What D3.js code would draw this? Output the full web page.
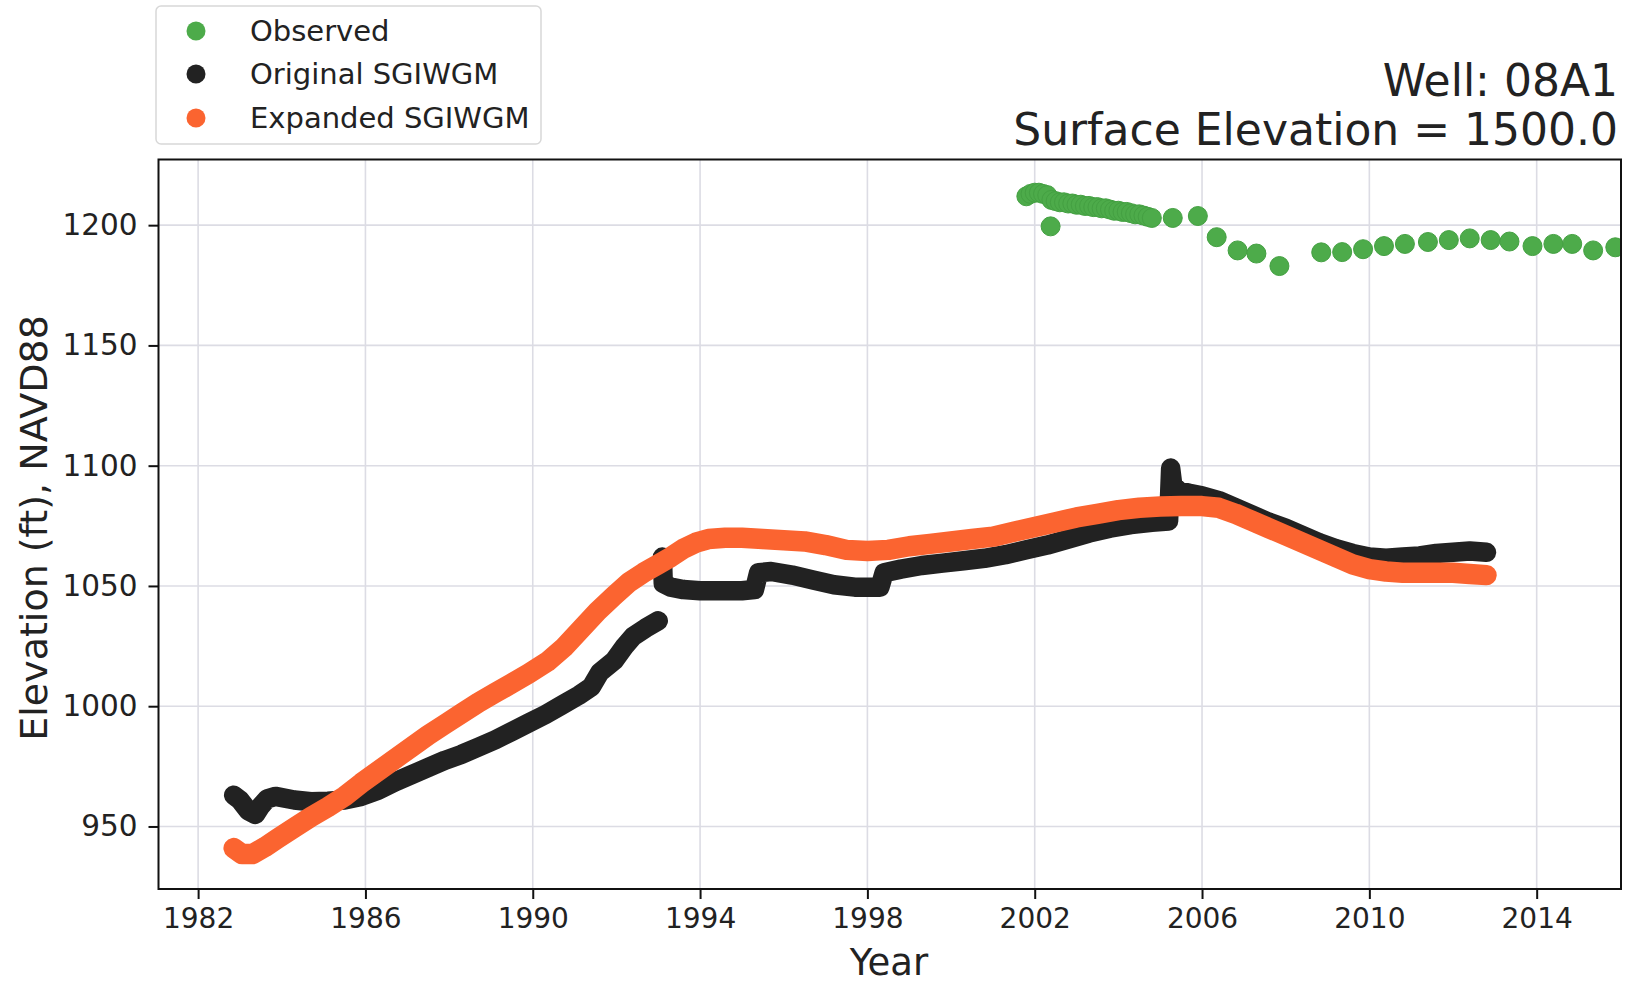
<!DOCTYPE html>
<html><head><meta charset="utf-8">
<script src="https://cdn.jsdelivr.net/npm/d3@7"></script>
<style>html,body{margin:0;padding:0;background:#fff;}svg{display:block;}text{font-family:"DejaVu Sans",sans-serif;fill:#222;}</style>
</head><body>
<svg id="chart" width="1635" height="984"></svg>
<script>
// ---- data ----
const xTicks = [1982, 1986, 1990, 1994, 1998, 2002, 2006, 2010, 2014];
const yTicks = [950, 1000, 1050, 1100, 1150, 1200];
const seriesNames = ["Observed", "Original SGIWGM", "Expanded SGIWGM"];

const observedYears = [2001.8,2001.9,2002.0,2002.1,2002.2,2002.3,2002.38,2002.4,2002.5,2002.6,2002.7,2002.8,2002.9,2003.0,2003.1,2003.2,2003.3,2003.4,2003.5,2003.6,2003.7,2003.8,2003.9,2004.0,2004.1,2004.2,2004.3,2004.4,2004.5,2004.6,2004.7,2004.8,
  2005.3,2005.9,2006.35,2006.85,2007.3,2007.85,2008.85,2009.35,2009.85,2010.35,2010.85,2011.4,2011.9,2012.4,2012.9,2013.35,2013.9,2014.4,2014.85,2015.35,2015.88];
const observedValues = [1212,1213,1213.5,1213.5,1213,1212.5,1199.5,1210.5,1210,1209.5,1209.5,1209,1209,1208.5,1208.5,1208,1208,1207.5,1207.5,1207,1207,1206.5,1206,1206,1205.5,1205.5,1205,1204.5,1204.5,1204,1203.5,1203,
  1203,1203.8,1195,1189.5,1188.2,1183,1188.7,1188.8,1190,1191.3,1192.2,1193,1193.8,1194.5,1193.8,1193.2,1191.3,1192.2,1192.2,1189.5,1190.8];

// null marks a gap in the simulated record
const originalYears = [1982.85,1983.0,1983.2,1983.37,1983.5,1983.65,1983.85,1984.3,1984.7,1985.1,1985.5,1985.9,1986.3,1986.7,1987.1,1987.5,1987.9,1988.3,1988.7,1989.1,1989.5,1989.9,1990.3,1990.7,1991.1,1991.4,1991.6,1991.95,1992.2,1992.4,1992.7,1993.0,
  1993.05,
  1993.1,1993.12,1993.3,1993.6,1994.0,1994.5,1995.0,1995.3,1995.4,1995.7,1996.2,1996.7,1997.2,1997.7,1998.3,1998.4,1998.8,1999.3,1999.8,2000.3,2000.8,2001.3,2001.8,2002.3,2002.8,2003.3,2003.8,2004.3,2004.8,2005.2,2005.25,2005.3,2005.45,2005.7,2006.0,2006.4,2006.8,2007.2,2007.6,2008.0,2008.4,2008.8,2009.2,2009.6,2010.0,2010.4,2010.8,2011.2,2011.6,2012.0,2012.4,2012.8];
const originalValues = [963,961,956.5,955,958.5,961.5,962.5,961,960.3,960.5,961,962.5,965,968.5,971.5,974.5,977.5,980,983,986,989.5,993,996.5,1000.5,1004.5,1008,1014,1019,1025,1029,1032.5,1035.5,
  null,
  1062,1051,1049.5,1048.5,1048,1048,1048,1048.5,1055.5,1056,1054.5,1052.5,1050.5,1049.5,1049.5,1055.5,1057,1058.5,1059.5,1060.5,1061.5,1063,1065,1067,1069.5,1072,1074,1075.5,1076.5,1077,1099,1092,1089.5,1088.5,1087.5,1085.5,1082.5,1079.5,1076.5,1074,1071,1068,1065.5,1063.5,1062,1061.5,1062,1062.5,1063.5,1064,1064.5,1064];

const expandedYears = [1982.85,1983.05,1983.3,1983.6,1983.9,1984.3,1984.7,1985.1,1985.5,1985.9,1986.3,1986.7,1987.1,1987.5,1987.9,1988.3,1988.7,1989.1,1989.5,1989.9,1990.35,1990.75,1991.15,1991.55,1991.95,1992.3,1992.65,1993.0,1993.3,1993.6,1993.9,1994.2,1994.6,1995.0,1995.5,1996.0,1996.5,1997.0,1997.5,1998.0,1998.5,1999.0,1999.5,2000.0,2000.5,2001.0,2001.5,2002.0,2002.5,2003.0,2003.5,2004.0,2004.5,2005.0,2005.5,2006.0,2006.4,2006.8,2007.2,2007.6,2008.0,2008.4,2008.8,2009.2,2009.6,2010.0,2010.4,2010.8,2011.2,2011.6,2012.0,2012.4,2012.8];
const expandedValues = [941,938.5,938.5,941.5,945,949.5,954,958,962.5,968,973,978,983,988,992.5,997,1001.5,1005.5,1009.5,1013.5,1018.5,1024.5,1032,1039.5,1046,1051.5,1055.5,1059,1062,1065.5,1068,1069.5,1070,1070,1069.5,1069,1068.5,1067,1065,1064.5,1065,1066.5,1067.5,1068.5,1069.5,1070.5,1072.5,1074.5,1076.5,1078.5,1080,1081.5,1082.5,1083,1083.2,1083.2,1082.5,1080,1077,1074,1071,1068,1065,1062,1059,1057,1056,1055.5,1055.5,1055.5,1055.5,1055,1054.5];

// ---- layout ----
const colors = {obs: "#4dab4a", orig: "#222222", exp: "#fb6430"};
const L = 158.5, R = 1621, T = 159.5, B = 889;
const svg = d3.select("#chart");
const x = d3.scaleLinear().domain([1981.053, 2016.016]).range([L, R]);
const y = d3.scaleLinear().domain([924.0, 1227.3]).range([B, T]);

svg.append("defs").append("clipPath").attr("id", "clip")
  .append("rect").attr("x", L).attr("y", T).attr("width", R - L).attr("height", B - T);

// grid
const grid = svg.append("g");
grid.selectAll(".gx").data(xTicks).join("line")
  .attr("x1", d => x(d)).attr("x2", d => x(d)).attr("y1", T).attr("y2", B)
  .attr("stroke", "#dcdce4").attr("stroke-width", 1.6);
grid.selectAll(".gy").data(yTicks).join("line")
  .attr("y1", d => y(d)).attr("y2", d => y(d)).attr("x1", L).attr("x2", R)
  .attr("stroke", "#dcdce4").attr("stroke-width", 1.6);

const plot = svg.append("g").attr("clip-path", "url(#clip)");

// observed scatter
const obs = observedYears.map((d, i) => [d, observedValues[i]]);
plot.selectAll(".obs").data(obs).join("circle")
  .attr("cx", d => x(d[0])).attr("cy", d => y(d[1])).attr("r", 9.5)
  .attr("fill", colors.obs).attr("stroke", "#44a042").attr("stroke-width", 1);

const line = d3.line().defined(d => d[1] !== null).x(d => x(d[0])).y(d => y(d[1]));
const orig = originalYears.map((d, i) => [d, originalValues[i]]);
const exp = expandedYears.map((d, i) => [d, expandedValues[i]]);

plot.append("path").datum(orig).attr("d", line)
  .attr("fill", "none").attr("stroke", colors.orig).attr("stroke-width", 19.5)
  .attr("stroke-linecap", "round").attr("stroke-linejoin", "round");
plot.append("path").datum(exp).attr("d", line)
  .attr("fill", "none").attr("stroke", colors.exp).attr("stroke-width", 20.5)
  .attr("stroke-linecap", "round").attr("stroke-linejoin", "round");

// frame
svg.append("rect").attr("x", L).attr("y", T).attr("width", R - L).attr("height", B - T)
  .attr("fill", "none").attr("stroke", "#111").attr("stroke-width", 2);

// axes
const xAxis = svg.append("g").attr("transform", `translate(0,${B})`)
  .call(d3.axisBottom(x).tickValues(xTicks).tickFormat(d3.format("d")).tickSize(10).tickPadding(9));
const yAxis = svg.append("g").attr("transform", `translate(${L},0)`)
  .call(d3.axisLeft(y).tickValues(yTicks).tickFormat(d3.format("d")).tickSize(10).tickPadding(11));
[xAxis, yAxis].forEach(a => {
  a.select(".domain").remove();
  a.selectAll(".tick line").attr("stroke", "#111").attr("stroke-width", 2);
  a.selectAll(".tick text").attr("font-family", "DejaVu Sans").attr("fill", "#222");
});
xAxis.selectAll(".tick text").attr("font-size", 28);
yAxis.selectAll(".tick text").attr("font-size", 29.5);

// axis titles
svg.append("text").attr("x", 889).attr("y", 975).attr("text-anchor", "middle")
  .attr("font-size", 37).text("Year");
svg.append("text").attr("transform", "translate(47,528) rotate(-90)").attr("text-anchor", "middle")
  .attr("font-size", 38).text("Elevation (ft), NAVD88");

// title
svg.append("text").attr("x", 1618).attr("y", 96).attr("text-anchor", "end")
  .attr("font-size", 44).text("Well: 08A1");
svg.append("text").attr("x", 1618).attr("y", 145).attr("text-anchor", "end")
  .attr("font-size", 44).text("Surface Elevation = 1500.0");

// legend
const lg = svg.append("g");
lg.append("rect").attr("x", 156).attr("y", 6).attr("width", 385).attr("height", 138).attr("rx", 5)
  .attr("fill", "#fff").attr("stroke", "#d8d8d8").attr("stroke-width", 1.5);
const lc = [colors.obs, colors.orig, colors.exp];
const rowsY = [31, 74, 118];
lg.selectAll(".lm").data(seriesNames).join("circle")
  .attr("cx", 196).attr("cy", (d, i) => rowsY[i]).attr("r", 9.5).attr("fill", (d, i) => lc[i]);
lg.selectAll(".lt").data(seriesNames).join("text")
  .attr("x", 250).attr("y", (d, i) => rowsY[i] + 10).attr("font-size", 29).text(d => d);
</script>
</body></html>
